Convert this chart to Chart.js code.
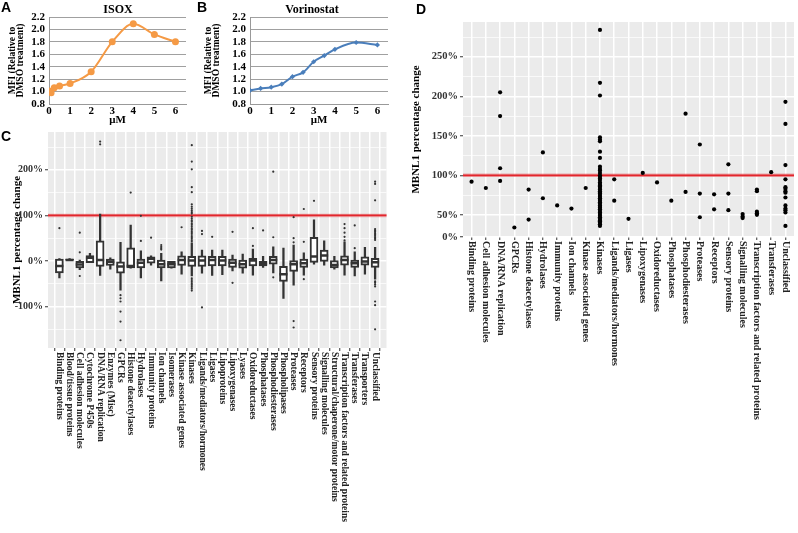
<!DOCTYPE html>
<html>
<head>
<meta charset="utf-8">
<script src="https://cdn.jsdelivr.net/npm/chart.js@4.4.0/dist/chart.umd.min.js"></script>
<style>
  body { margin: 0; background: #fff; }
  #wrap { position: relative; width: 798px; height: 533px; overflow: hidden; }
  canvas { position: absolute; }
  .panel { position: absolute; font: bold 14px "Liberation Sans", Arial, sans-serif; line-height: 14px; color: #000; }
  .ttl { position: absolute; width: 100px; text-align: center; font: bold 12px "Liberation Serif", serif; line-height: 14px; color: #000; }
</style>
</head>
<body>
<div id="wrap">
  <canvas id="chartA" style="left:0;top:0" width="190" height="130"></canvas>
  <canvas id="chartB" style="left:196px;top:0" width="196" height="130"></canvas>
  <canvas id="chartC" style="left:0;top:120px" width="393" height="413"></canvas>
  <canvas id="chartD" style="left:405px;top:0" width="393" height="533"></canvas>
  <div class="panel" style="left:1px;top:0">A</div>
  <div class="panel" style="left:197px;top:0">B</div>
  <div class="panel" style="left:1px;top:129px">C</div>
  <div class="panel" style="left:416px;top:2px">D</div>
  <div class="ttl" style="left:68px;top:2px">ISOX</div>
  <div class="ttl" style="left:262px;top:2px">Vorinostat</div>
</div>
<script>
// panel A / B : dose response
const isoxDose = [0, 0.1, 0.25, 0.5, 1, 2, 3, 4, 5, 6];
const isoxMFI = [1.01, 0.98, 1.06, 1.09, 1.13, 1.32, 1.80, 2.09, 1.92, 1.80];
const vorDose = [0, 0.5, 1, 1.5, 2, 2.5, 3, 3.5, 4, 5, 6];
const vorMFI = [1.02, 1.05, 1.07, 1.12, 1.24, 1.31, 1.48, 1.58, 1.68, 1.79, 1.75];
const doseTicks = [0, 1, 2, 3, 4, 5, 6];
const mfiTicks = [0.8, 1.0, 1.2, 1.4, 1.6, 1.8, 2.0, 2.2];

// panel C : boxplots per protein class (percent)
const cCategories = ['Binding proteins', 'Blood/tissue proteins', 'Cell adhesion molecules', 'Cytochrome P450s',
  'DNA/RNA replication', 'Enzymes (Misc)', 'GPCRs', 'Histone deacetylases', 'Hydrolases', 'Immunity proteins',
  'Ion channels', 'Isomerases', 'Kinase associated genes', 'Kinases', 'Ligands/mediators/hormones', 'Ligases',
  'Lipoproteins', 'Lipoxygenases', 'Lyases', 'Oxidoreductases', 'Phosphatases', 'Phosphodiesterases',
  'Phospholipases', 'Proteases', 'Receptors', 'Sensory proteins', 'Signalling molecules',
  'Structural/chaperone/motor proteins', 'Transcription factors and related proteins', 'Transferases',
  'Transporters', 'Unclassified'];
const cLow    = [-37, 0, -19, -4, -32, -18, -64, -16, -37, -9, -44, -16, -29, -33, -27, -32, -30, -22, -27, -31, -14, -26, -82, -53, -31, -7, -9, -18, -31, -33, -29, -40];
const cQ1     = [-26, 0, -15, -4, -12, -10, -27, -15, -15, -5, -15, -15, -10, -12, -12, -11, -11, -14, -16, -11, -11, -7, -45, -23, -14, -3, -1, -15, -9, -14, -9, -14];
const cMedian = [-11, 2, -8, 7, 2, -2, -12, -11, -4, 5, -7, -7, 2, 1, 1, 2, 1, -4, -7, 1, -6, 2, -29, -7, -5, 10, 12, -9, 2, -5, -1, -3];
const cQ3     = [4, 4, -1, 12, 44, 4, 0, 29, 4, 9, 2, -1, 11, 10, 11, 10, 10, 4, 2, 6, -1, 10, -12, 1, 4, 52, 24, 1, 11, 2, 9, 6];
const cHigh   = [5, 5, 2, 17, 103, 7, 41, 79, 22, 11, 17, 0, 20, 40, 24, 24, 24, 13, 15, 26, 10, 31, 28, 35, 18, 90, 44, 10, 42, 20, 30, 30];
const cOutliers = [
  [72], [], [62, 19, -33], [], [262, 256], [], [-75, -82, -89, -111, -133, -174], [150], [99, 44], [51],
  [35, 31, 28, 25], [], [74],
  [254, 218, 201, 162, 151, 124, 119, 115, 111, 107, 104, 97, 93, 89, 86, 82, 79, 75, 71, 68, 64, 61, 57, 53, 50, 46, 43,
   -38, -42, -46, -50, -53, -57, -61, -65],
  [66, 59, -102], [53], [], [64, -48], [], [72, 33], [67], [196, 52, -36], [], [96, 50, 41, -132, -146],
  [114, 42, -40], [132], [], [], [81, 72, 62, 53, 45], [78, 28], [],
  [174, 169, 133, 70, 67, 64, 61, 58, 55, 52, 49, 46, -45, -48, -52, -56, -89, -97, -150]
];
const cYTicks = [-150, -100, -50, 0, 50, 100, 150, 200, 250];
const cYLabels = ['', '-100%', '', '0%', '', '100%', '', '200%', ''];

// panel D : classes with MBNL1 change (percent)
const dCategories = ['Binding proteins', 'Cell adhesion molecules', 'DNA/RNA replication', 'GPCRs',
  'Histone deacetylases', 'Hydrolases', 'Immunity proteins', 'Ion channels', 'Kinase associated genes', 'Kinases',
  'Ligands/mediators/hormones', 'Ligases', 'Lipoxygenases', 'Oxidoreductases', 'Phosphatases',
  'Phosphodiesterases', 'Proteases', 'Receptors', 'Sensory proteins', 'Signalling molecules',
  'Transcription factors and related proteins', 'Transferases', 'Unclassified'];
const dValues = [
  [92], [84], [205, 175, 109, 93], [34], [82, 44], [129, 71], [62], [58], [84],
  [284, 217, 201, 148, 145, 143, 130, 122, 111, 108, 106, 103, 100, 98, 96, 94, 91, 89, 87, 86, 84, 82, 80, 78, 77,
   75, 73, 71, 70, 68, 66, 64, 62, 60, 59, 57, 55, 53, 51, 49, 47, 45, 43, 42, 40, 38, 36],
  [95, 68], [45], [103], [91], [68], [178, 79], [139, 77, 47], [76, 57], [114, 77, 56], [51, 48, 46],
  [82, 80, 54, 52, 50], [104],
  [193, 165, 113, 95, 85, 83, 80, 78, 72, 62, 58, 56, 53, 36]
];
const dYTicks = [22, 50, 75, 100, 125, 150, 175, 200, 225, 250, 275];
const dYLabels = ['0%', '50%', '', '100%', '', '150%', '', '200%', '', '250%', ''];
const refLineValue = 100;

const SERIF = '"Liberation Serif", "Times New Roman", serif';

const panelBg = {
  id: 'panelBg',
  beforeDraw(chart) {
    const a = chart.chartArea, c = chart.ctx;
    c.save();
    c.fillStyle = '#EBEBEB';
    c.fillRect(a.left, a.top, a.right - a.left, a.bottom - a.top);
    c.restore();
  }
};

const refLine = {
  id: 'refLine',
  beforeDatasetsDraw(chart) {
    const y = chart.scales.y.getPixelForValue(refLineValue);
    const a = chart.chartArea, c = chart.ctx;
    c.save();
    c.strokeStyle = 'rgba(226,38,45,0.35)';
    c.lineWidth = 3.5;
    c.beginPath();
    c.moveTo(a.left, y);
    c.lineTo(a.right, y);
    c.stroke();
    c.strokeStyle = '#E2262D';
    c.lineWidth = 1.8;
    c.stroke();
    c.restore();
  }
};

// category names written downwards under the x axis
const downLabels = {
  id: 'downLabels',
  afterDraw(chart, args, opts) {
    const xs = chart.scales.x, c = chart.ctx;
    c.save();
    c.font = opts.font;
    c.fillStyle = '#222';
    c.textAlign = 'left';
    c.textBaseline = 'middle';
    opts.labels.forEach((t, i) => {
      c.save();
      c.translate(xs.getPixelForValue(i), xs.top + 4);
      c.rotate(Math.PI / 2);
      c.fillText(t, 0, 0);
      c.restore();
    });
    c.restore();
  }
};

function doseChart(id, xs, ys, color, style, radius, yWidth) {
  const tickFont = { family: SERIF, size: 11, weight: 'bold' };
  return new Chart(document.getElementById(id), {
    type: 'scatter',
    data: {
      datasets: [{
        data: xs.map((x, i) => ({ x: x, y: ys[i] })),
        showLine: true,
        cubicInterpolationMode: 'monotone',
        borderColor: color,
        backgroundColor: color,
        borderWidth: 2,
        pointStyle: style,
        pointRadius: radius,
        pointBorderWidth: 0
      }]
    },
    options: {
      responsive: false,
      animation: false,
      layout: { padding: { top: 17 } },
      plugins: { legend: { display: false }, tooltip: { enabled: false } },
      scales: {
        x: {
          type: 'linear', min: 0, max: 6.5,
          afterBuildTicks: s => { s.ticks = doseTicks.map(v => ({ value: v })); },
          afterFit: s => { s.height = 26; },
          grid: { display: false, drawTicks: false },
          border: { color: '#999' },
          ticks: { font: tickFont, color: '#000', padding: 1, autoSkip: false, maxRotation: 0 },
          title: { display: true, text: 'μM', color: '#000', font: tickFont, padding: { top: 0, bottom: 3 } }
        },
        y: {
          min: 0.8, max: 2.2,
          afterBuildTicks: s => { s.ticks = mfiTicks.map(v => ({ value: v })); },
          afterFit: s => { s.width = yWidth; },
          grid: { color: '#A0A0A0', drawTicks: false },
          border: { color: '#999' },
          ticks: { font: tickFont, color: '#000', padding: 4, autoSkip: false, callback: v => v.toFixed(1) },
          title: {
            display: true, text: ['MFI (Relative to', 'DMSO treatment)'], color: '#000',
            font: { family: SERIF, size: 9.5, weight: 'bold', lineHeight: 0.9 }, padding: { top: 8, bottom: 0 }
          }
        }
      }
    }
  });
}

doseChart('chartA', isoxDose, isoxMFI, '#F59A45', 'circle', 3.5, 49);
doseChart('chartB', vorDose, vorMFI, '#4A7EBB', 'rectRot', 2.6, 54);

function ggY(min, max, ticks, labels, width, titlePad, fontSize) {
  const major = ctx => labels[ticks.indexOf(ctx.tick.value)] !== '';
  return {
    min: min, max: max,
    afterBuildTicks: s => { s.ticks = ticks.map(v => ({ value: v })); },
    afterFit: s => { s.width = width; },
    grid: {
      color: '#fff',
      lineWidth: ctx => major(ctx) ? 1.5 : 0.7,
      tickColor: ctx => major(ctx) ? '#333' : 'rgba(0,0,0,0)',
      tickLength: 3, tickWidth: 1
    },
    border: { display: false },
    ticks: {
      font: { family: SERIF, size: fontSize, weight: 'bold' }, color: '#333', padding: 2, autoSkip: false,
      callback: v => labels[ticks.indexOf(v)]
    },
    title: {
      display: true, text: 'MBNL1 percentage change', color: '#000',
      font: { family: SERIF, size: 11, weight: 'bold' }, padding: { top: titlePad, bottom: 0 }
    }
  };
}

function ggX(n, height) {
  return {
    type: 'linear', min: -0.6, max: n - 0.4,
    afterBuildTicks: s => { s.ticks = Array.from({ length: n }, (_, i) => ({ value: i })); },
    afterFit: s => { s.height = height; },
    grid: { color: '#fff', lineWidth: 1.5, tickColor: '#333', tickLength: 3, tickWidth: 1 },
    border: { display: false },
    ticks: { autoSkip: false, callback: () => '' }
  };
}

new Chart(document.getElementById('chartC'), {
  type: 'bar',
  data: {
    datasets: [
      {
        data: cCategories.map((c, i) => ({ x: i, y: [cLow[i], cHigh[i]] })),
        backgroundColor: '#333', barThickness: 1.6, grouped: false, order: 4
      },
      {
        data: cCategories.map((c, i) => ({ x: i, y: [cQ1[i], cQ3[i]] })),
        backgroundColor: '#fff', borderColor: '#333', borderWidth: 2, borderSkipped: false,
        barThickness: 8, grouped: false, order: 3
      },
      {
        type: 'scatter',
        data: cMedian.map((m, i) => ({ x: i, y: m })),
        pointStyle: 'line', pointRadius: 4, borderColor: '#333', pointBorderWidth: 2.5, order: 2
      },
      {
        type: 'scatter',
        data: cOutliers.flatMap((arr, i) => arr.map(v => ({ x: i, y: v }))),
        pointRadius: 1.1, backgroundColor: '#333', pointBorderWidth: 0, order: 1
      }
    ]
  },
  options: {
    responsive: false,
    animation: false,
    layout: { padding: { top: 12 } },
    plugins: {
      legend: { display: false }, tooltip: { enabled: false },
      downLabels: { labels: cCategories, font: 'bold 9.5px ' + SERIF }
    },
    scales: {
      x: ggX(cCategories.length, 185),
      y: ggY(-191, 283, cYTicks, cYLabels, 48, 10.4, 10)
    }
  },
  plugins: [panelBg, refLine, downLabels]
});

new Chart(document.getElementById('chartD'), {
  type: 'scatter',
  data: {
    datasets: [{
      data: dValues.flatMap((arr, i) => arr.map(v => ({ x: i, y: v }))),
      pointRadius: 2.1, backgroundColor: '#000', pointBorderWidth: 0
    }]
  },
  options: {
    responsive: false,
    animation: false,
    layout: { padding: { top: 22, right: 1 } },
    plugins: {
      legend: { display: false }, tooltip: { enabled: false },
      downLabels: { labels: dCategories, font: 'bold 10px ' + SERIF }
    },
    scales: {
      x: ggX(dCategories.length, 296),
      y: ggY(22, 294, dYTicks, dYLabels, 58, 4.4, 10.5)
    }
  },
  plugins: [panelBg, refLine, downLabels]
});
</script>
</body>
</html>
